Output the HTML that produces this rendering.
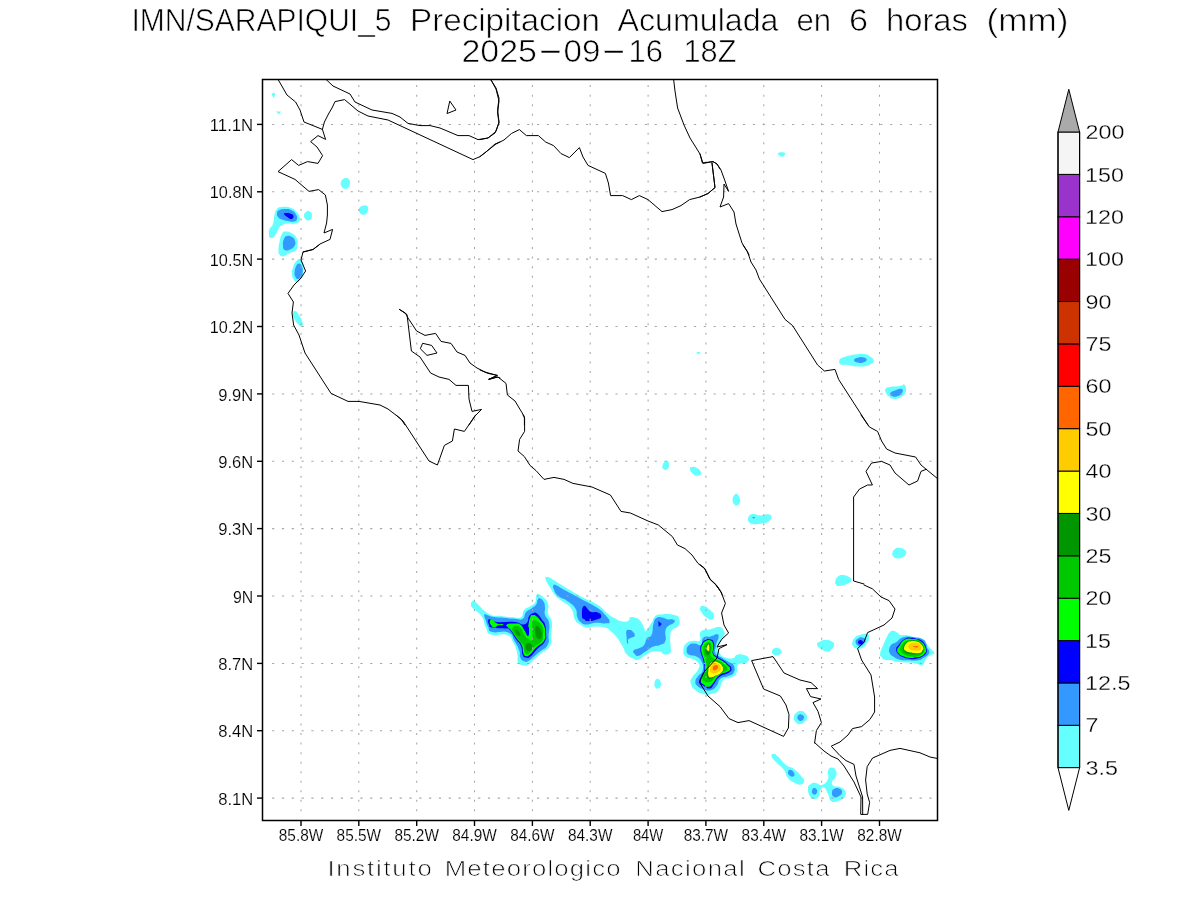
<!DOCTYPE html>
<html lang="es"><head><meta charset="utf-8"><title>IMN/SARAPIQUI_5 Precipitacion Acumulada en 6 horas (mm)</title>
<style>
html,body{margin:0;padding:0;background:#fff;}
body{width:1200px;height:900px;overflow:hidden;}
svg{display:block;}
text{font-family:"Liberation Sans",sans-serif;fill:#000;}
.t1{font-size:31.4px;}
.tk{font-size:16.4px;}
.cb{font-size:19.6px;}
.ft{font-size:22.4px;}
.thin{stroke:#fff;stroke-width:0.65px;paint-order:fill stroke;}
.thin2{stroke:#fff;stroke-width:0.15px;}
.thin3{stroke:#fff;stroke-width:0.3px;}
.thinf{stroke:#fff;stroke-width:0.75px;}
</style></head><body>
<svg width="1200" height="900" viewBox="0 0 1200 900">
<rect width="1200" height="900" fill="#fff"/>
<g id="shade">
<path fill="#66ffff" d="M272.0,93.4C272.7,92.7 274.5,92.3 275.0,93.4C275.5,94.5 274.7,96.7 274.0,97.4C273.3,98.1 272.9,97.1 272.4,96.0C271.9,94.9 271.3,94.1 272.0,93.4Z M276.0,111.4 L281.0,111.4 L279.0,114.6Z M341.0,182.0C341.7,180.0 342.1,179.5 344.0,178.6C345.9,177.7 346.4,177.4 348.0,178.6C349.6,179.8 350.0,180.7 350.0,183.0C350.0,185.3 349.6,185.9 348.0,187.4C346.4,188.9 345.8,189.0 344.0,188.6C342.2,188.2 342.2,187.8 341.4,186.0C340.6,184.2 340.3,184.0 341.0,182.0Z M359.0,208.6C359.7,207.0 359.9,206.7 362.0,206.0C364.1,205.3 365.4,204.9 367.0,206.0C368.6,207.1 368.4,207.9 368.0,210.0C367.6,212.1 367.2,212.8 365.6,214.0C364.0,215.2 363.7,214.9 362.0,214.4C360.3,213.9 360.2,213.5 359.4,212.0C358.6,210.5 358.3,210.2 359.0,208.6Z M778.0,153.4C778.2,152.5 778.4,152.6 780.0,152.4C781.6,152.2 782.7,152.1 784.0,152.6C785.3,153.1 785.5,153.3 785.0,154.4C784.5,155.5 783.5,156.3 782.0,156.6C780.5,156.9 780.5,156.5 779.4,155.6C778.3,154.7 777.8,154.3 778.0,153.4Z M697.0,352.2C697.8,351.8 699.2,351.8 700.0,352.2C700.8,352.6 700.8,353.2 700.0,353.6C699.2,354.0 697.8,354.0 697.0,353.6C696.2,353.2 696.2,352.6 697.0,352.2Z M839.4,360.6C839.9,358.8 838.8,359.2 843.0,357.6C847.2,356.0 849.4,355.6 855.0,354.6C860.6,353.6 860.0,353.5 864.0,354.0C868.0,354.5 867.4,354.8 870.0,356.6C872.6,358.4 873.6,358.5 873.6,360.6C873.6,362.7 873.6,362.8 870.0,364.4C866.4,366.0 865.9,366.4 860.0,366.6C854.1,366.8 853.1,365.6 848.0,365.0C842.9,364.4 843.3,365.6 841.0,364.4C838.7,363.2 838.9,362.4 839.4,360.6Z M885.6,389.0C886.7,387.4 886.2,387.8 890.0,387.0C893.8,386.2 896.3,386.7 900.0,386.0C903.7,385.3 902.4,383.9 904.0,384.4C905.6,384.9 905.7,385.7 906.0,388.0C906.3,390.3 906.3,390.6 905.0,393.0C903.7,395.4 903.9,395.4 901.0,397.0C898.1,398.6 897.2,399.1 894.0,399.0C890.8,398.9 891.1,398.2 889.0,396.6C886.9,395.0 886.9,395.0 886.0,393.0C885.1,391.0 884.5,390.6 885.6,389.0Z M662.4,466.0C662.7,463.9 663.5,462.6 665.0,461.4C666.5,460.2 666.9,460.4 668.0,461.4C669.1,462.4 669.1,463.0 669.0,465.0C668.9,467.0 668.9,467.8 667.6,469.0C666.3,470.2 665.4,470.2 664.0,469.4C662.6,468.6 662.1,468.1 662.4,466.0Z M690.0,468.6C690.0,467.0 690.4,467.3 692.0,467.0C693.6,466.7 693.9,466.4 696.0,467.4C698.1,468.4 698.8,468.7 700.0,470.6C701.2,472.5 701.7,473.3 700.6,474.6C699.5,475.9 698.3,475.8 696.0,475.4C693.7,475.0 693.6,474.8 692.0,473.0C690.4,471.2 690.0,470.2 690.0,468.6Z M732.6,500.0C732.6,497.7 732.8,497.0 734.0,495.4C735.2,493.8 735.6,493.3 737.0,494.0C738.4,494.7 738.6,495.9 739.4,498.0C740.2,500.1 740.6,500.0 740.0,502.0C739.4,504.0 738.6,504.9 737.0,505.4C735.4,505.9 735.2,505.4 734.0,504.0C732.8,502.6 732.6,502.3 732.6,500.0Z M748.0,519.0C748.3,517.1 748.4,516.3 750.0,515.0C751.6,513.7 751.3,513.9 754.0,514.0C756.7,514.1 756.0,515.3 760.0,515.4C764.0,515.5 766.0,513.9 769.0,514.4C772.0,514.9 771.4,515.6 771.4,517.4C771.4,519.2 771.5,519.3 769.0,521.0C766.5,522.7 766.3,522.8 762.0,523.6C757.7,524.4 756.5,524.4 753.0,524.0C749.5,523.6 750.3,523.3 749.0,522.0C747.7,520.7 747.7,520.9 748.0,519.0Z M892.4,553.0C892.8,551.0 893.0,550.3 895.0,549.0C897.0,547.7 897.3,547.7 900.0,548.0C902.7,548.3 903.4,548.6 905.0,550.0C906.6,551.4 906.5,551.5 906.0,553.4C905.5,555.3 905.4,555.7 903.0,557.0C900.6,558.3 899.6,558.5 897.0,558.4C894.4,558.3 894.6,558.0 893.4,556.6C892.2,555.2 892.0,555.0 892.4,553.0Z M835.4,581.0C835.9,578.9 836.0,578.2 838.0,576.6C840.0,575.0 840.1,574.9 843.0,575.0C845.9,575.1 846.8,575.5 849.0,577.0C851.2,578.5 851.9,578.7 851.4,580.6C850.9,582.5 850.0,582.6 847.0,584.0C844.0,585.4 842.9,585.8 840.0,586.0C837.1,586.2 837.2,585.9 836.0,584.6C834.8,583.3 834.9,583.1 835.4,581.0Z M700.0,608.0C700.5,606.1 701.3,605.5 704.0,606.0C706.7,606.5 707.3,607.6 710.0,610.0C712.7,612.4 713.5,612.5 714.0,615.0C714.5,617.5 713.9,618.6 712.0,619.4C710.1,620.2 709.7,619.7 707.0,618.0C704.3,616.3 703.9,615.7 702.0,613.0C700.1,610.3 699.5,609.9 700.0,608.0Z M772.0,651.4C772.3,650.0 772.4,649.5 774.0,648.6C775.6,647.7 776.1,647.5 778.0,648.0C779.9,648.5 780.5,649.0 781.0,650.6C781.5,652.2 781.3,652.7 780.0,654.0C778.7,655.3 777.9,655.4 776.0,655.4C774.1,655.4 774.1,655.1 773.0,654.0C771.9,652.9 771.7,652.8 772.0,651.4Z M817.0,644.6C816.7,642.6 817.6,642.6 820.0,641.4C822.4,640.2 822.8,640.0 826.0,640.0C829.2,640.0 829.9,640.1 832.0,641.4C834.1,642.7 834.3,642.7 834.0,645.0C833.7,647.3 832.9,648.3 831.0,650.0C829.1,651.7 829.7,651.7 827.0,651.4C824.3,651.1 823.7,650.8 821.0,649.0C818.3,647.2 817.3,646.6 817.0,644.6Z M794.0,717.4C794.1,715.0 794.2,714.7 796.0,713.0C797.8,711.3 798.2,711.0 800.6,711.0C803.0,711.0 803.3,711.3 805.0,713.0C806.7,714.7 807.2,715.0 807.0,717.4C806.8,719.8 806.3,720.2 804.4,722.0C802.5,723.8 802.3,724.0 800.0,724.0C797.7,724.0 797.2,723.8 795.6,722.0C794.0,720.2 793.9,719.8 794.0,717.4Z M852.4,642.0C852.9,639.7 853.0,639.3 855.0,637.4C857.0,635.5 856.8,635.9 860.0,635.0C863.2,634.1 864.6,633.4 867.0,634.0C869.4,634.6 869.0,635.0 869.0,637.4C869.0,639.8 868.6,640.3 867.0,643.0C865.4,645.7 865.7,645.9 863.0,647.4C860.3,648.9 859.7,649.0 857.0,648.6C854.3,648.2 854.2,647.8 853.0,646.0C851.8,644.2 851.9,644.3 852.4,642.0Z M880.2,653.2C880.7,649.8 881.6,648.9 883.4,644.5C885.2,640.1 885.2,640.2 886.9,636.9C888.6,633.6 888.1,633.9 889.8,632.2C891.5,630.6 891.3,630.6 893.3,630.8C895.4,630.9 895.5,631.7 897.4,632.8C899.3,633.9 897.8,634.2 900.3,634.9C902.8,635.5 903.2,634.7 906.8,635.3C910.3,635.8 909.5,635.9 913.8,636.9C918.0,637.9 918.6,636.5 922.5,639.0C926.4,641.4 925.8,643.4 928.3,646.2C930.8,649.1 930.3,647.8 931.8,649.8C933.4,651.7 934.5,652.1 934.2,653.5C933.9,654.9 932.8,653.5 930.7,655.0C928.5,656.5 928.2,656.4 926.0,659.1C923.8,661.7 925.3,663.8 922.5,664.9C919.7,666.1 919.5,664.1 915.5,663.5C911.5,662.8 912.5,663.1 907.3,662.6C902.2,662.1 900.6,662.3 896.2,661.7C891.9,661.1 894.0,660.7 891.0,660.2C888.0,659.8 887.7,660.7 885.2,660.0C882.7,659.2 883.0,659.1 881.7,657.3C880.3,655.5 879.7,656.7 880.2,653.2Z M683.4,650.2C683.7,646.7 684.1,645.6 686.6,643.1C689.0,640.6 689.2,641.6 692.8,640.9C696.3,640.2 697.8,642.9 699.9,640.4C702.0,638.0 697.9,634.5 700.8,631.6C703.6,628.6 705.8,630.5 710.6,629.3C715.3,628.1 715.1,626.9 718.6,627.1C722.0,627.3 722.0,627.6 723.4,630.2C724.9,632.8 725.0,633.5 723.9,636.9C722.8,640.3 721.1,639.8 719.4,643.1C717.8,646.4 717.7,646.7 717.7,649.3C717.7,651.9 717.5,650.8 719.4,652.9C721.3,655.0 721.2,655.9 724.8,657.3C728.3,658.8 729.5,658.9 732.8,658.2C736.1,657.5 734.1,655.5 737.2,654.7C740.3,653.8 741.3,654.2 744.3,655.1C747.4,656.1 748.3,656.2 748.8,658.2C749.3,660.2 748.7,661.1 746.1,662.7C743.5,664.2 741.4,662.8 739.0,664.0C736.6,665.2 737.9,664.6 737.2,667.1C736.5,669.6 738.2,670.5 736.3,673.3C734.4,676.2 733.7,675.9 730.1,677.8C726.6,679.7 726.1,677.1 723.0,680.4C719.9,683.8 721.6,686.7 718.6,690.2C715.5,693.8 715.2,692.7 711.4,693.8C707.7,694.8 708.6,695.2 704.3,694.2C700.1,693.3 699.0,692.9 695.4,690.2C691.9,687.5 691.9,687.3 691.0,684.0C690.1,680.7 690.0,681.6 691.9,677.8C693.8,674.0 696.3,673.6 698.1,669.8C699.9,666.0 700.0,666.4 698.6,663.6C697.1,660.7 696.2,661.0 692.8,659.1C689.3,657.2 688.2,658.8 685.7,656.4C683.2,654.1 683.2,653.8 683.4,650.2Z M471.0,604.8C470.8,603.0 471.0,602.3 472.2,601.6C473.4,600.9 470.9,598.7 475.4,602.0C479.9,605.3 482.2,610.3 489.0,614.0C495.8,617.7 494.6,615.1 501.0,616.0C507.4,616.9 507.7,616.9 513.0,617.2C518.3,617.5 518.0,619.1 521.0,617.2C524.0,615.3 521.6,613.0 524.2,610.0C526.8,607.0 527.6,608.1 530.6,606.0C533.6,603.9 533.9,604.8 535.4,602.0C536.9,599.2 535.1,597.6 536.2,595.6C537.3,593.6 537.1,593.5 539.4,594.4C541.7,595.3 542.7,596.1 545.0,598.8C547.3,601.5 547.3,600.3 548.2,604.4C549.1,608.5 547.2,609.3 548.2,614.0C549.2,618.7 551.1,616.5 551.8,622.0C552.5,627.5 551.5,628.4 551.0,634.8C550.5,641.2 552.7,640.9 549.8,646.0C546.9,651.1 545.1,649.7 540.2,654.0C535.3,658.3 534.8,659.1 531.4,662.0C528.0,664.9 529.5,663.8 527.4,664.8C525.3,665.8 525.5,665.7 523.6,665.6C521.6,665.5 521.7,665.4 520.2,664.4C518.7,663.4 518.7,665.2 517.8,662.0C516.9,658.8 518.3,657.7 517.0,652.4C515.7,647.1 515.8,646.7 513.0,642.0C510.2,637.3 512.4,636.7 506.6,634.8C500.8,632.9 496.9,636.7 491.4,634.8C485.9,632.9 488.4,632.5 485.8,627.6C483.2,622.7 485.2,621.5 481.8,616.4C478.4,611.3 475.9,611.5 473.0,608.4C470.1,605.3 471.2,606.6 471.0,604.8Z M545.4,578.4C544.8,575.8 545.4,576.8 547.2,577.0C549.0,577.1 548.2,576.9 552.0,579.0C555.8,581.1 553.6,580.2 561.6,585.0C569.6,589.8 572.4,591.7 582.0,597.0C591.6,602.3 590.9,600.5 597.6,604.8C604.3,609.1 602.7,609.7 607.2,613.2C611.7,616.7 610.2,615.8 614.4,618.0C618.6,620.2 619.0,621.0 622.8,621.6C626.6,622.2 626.9,621.5 628.8,620.4C630.7,619.3 628.1,618.0 630.0,617.4C631.9,616.8 633.1,616.9 636.0,618.0C638.9,619.1 638.6,618.7 640.8,621.6C643.0,624.5 643.1,626.2 644.4,628.8C645.7,631.4 643.7,632.8 645.6,631.2C647.5,629.6 649.0,626.8 651.6,622.8C654.2,618.8 652.6,618.4 655.2,616.2C657.8,614.0 656.1,614.7 661.2,614.4C666.3,614.1 669.6,613.7 674.4,615.0C679.2,616.3 678.2,616.2 679.2,619.2C680.2,622.2 679.9,623.5 678.0,626.4C676.1,629.3 674.1,626.8 672.0,630.0C669.9,633.2 670.5,633.6 670.2,638.4C669.9,643.2 670.8,644.2 670.8,648.0C670.8,651.8 671.8,651.0 670.2,652.8C668.6,654.6 667.5,654.9 664.8,654.6C662.1,654.3 663.2,652.4 660.0,651.6C656.8,650.8 656.6,650.6 652.8,651.6C649.0,652.6 649.4,653.1 645.6,655.2C641.8,657.3 641.6,658.4 638.4,659.4C635.2,660.4 636.8,660.2 633.6,658.8C630.4,657.4 629.3,657.2 626.4,654.0C623.5,650.8 625.4,651.3 622.8,646.8C620.2,642.3 620.0,641.4 616.8,637.2C613.6,633.0 614.0,633.8 610.8,631.2C607.6,628.6 609.0,628.9 604.8,627.6C600.6,626.3 600.0,626.4 595.2,626.4C590.4,626.4 591.0,628.2 586.8,627.6C582.6,627.0 582.8,626.2 579.6,624.0C576.4,621.8 577.0,623.4 574.8,619.2C572.6,615.0 574.4,613.0 571.2,608.4C568.0,603.8 567.0,605.2 562.8,601.8C558.6,598.4 559.1,599.8 555.6,595.8C552.1,591.8 552.3,591.4 549.6,586.8C546.9,582.2 546.0,581.0 545.4,578.4Z M654.4,684.0C654.5,682.0 654.5,681.3 655.6,680.0C656.7,678.7 657.1,678.5 658.4,679.0C659.7,679.5 660.0,680.1 660.6,682.0C661.2,683.9 661.3,684.2 660.6,686.0C659.9,687.8 659.4,688.2 658.0,688.6C656.6,689.0 656.4,688.6 655.4,687.4C654.4,686.2 654.3,686.0 654.4,684.0Z M269.0,235.0C268.9,232.7 268.4,231.9 269.5,229.0C270.6,226.1 271.7,227.7 273.0,224.0C274.3,220.3 273.4,219.0 274.5,215.0C275.6,211.0 275.0,211.1 277.0,209.0C279.0,206.9 278.3,207.3 282.0,207.0C285.7,206.7 287.3,206.8 291.0,208.0C294.7,209.2 293.7,209.2 296.0,211.5C298.3,213.8 298.6,214.0 299.5,216.5C300.4,219.0 300.7,219.1 299.5,221.0C298.3,222.9 298.1,222.8 295.0,223.5C291.9,224.2 291.2,223.2 288.0,223.5C284.8,223.8 285.4,223.3 283.0,224.5C280.6,225.7 280.9,225.5 279.0,228.0C277.1,230.5 277.6,231.5 276.0,234.0C274.4,236.5 274.6,236.6 273.0,237.5C271.4,238.4 271.1,238.2 270.0,237.5C268.9,236.8 269.1,237.3 269.0,235.0Z M304.0,215.5C304.0,213.8 304.3,213.7 305.5,212.5C306.7,211.3 306.9,210.7 308.5,211.0C310.1,211.3 310.7,211.6 311.5,213.5C312.3,215.4 312.3,216.1 311.5,218.0C310.7,219.9 310.1,220.2 308.5,220.5C306.9,220.8 306.7,220.3 305.5,219.0C304.3,217.7 304.0,217.2 304.0,215.5Z M278.5,251.0C278.5,247.7 278.6,246.5 279.5,242.0C280.4,237.5 280.4,236.8 282.0,234.0C283.6,231.2 282.8,231.6 285.5,231.5C288.2,231.4 289.1,231.8 292.0,233.5C294.9,235.2 295.0,235.2 296.5,238.0C298.0,240.8 297.6,240.8 297.5,244.0C297.4,247.2 297.7,247.7 296.0,250.0C294.3,252.3 293.7,251.2 291.0,252.5C288.3,253.8 288.3,253.9 286.0,255.0C283.7,256.1 284.2,256.6 282.5,256.5C280.8,256.4 280.6,256.0 279.5,254.5C278.4,253.0 278.5,254.3 278.5,251.0Z M292.0,274.0C291.9,270.3 292.3,269.5 293.5,266.0C294.7,262.5 294.9,262.9 296.5,261.0C298.1,259.1 297.9,258.9 299.5,259.0C301.1,259.1 301.4,259.4 302.5,261.5C303.6,263.6 303.4,263.7 303.5,267.0C303.6,270.3 303.8,270.5 303.0,274.0C302.2,277.5 302.1,277.7 300.5,280.0C298.9,282.3 298.7,282.5 297.0,282.5C295.3,282.5 295.3,282.3 294.0,280.0C292.7,277.7 292.1,277.7 292.0,274.0Z M292.6,314.0C292.6,311.6 293.3,310.7 295.0,311.0C296.7,311.3 297.1,312.3 299.0,315.0C300.9,317.7 301.1,318.1 302.0,321.0C302.9,323.9 303.2,324.9 302.4,326.0C301.6,327.1 301.0,326.6 299.0,325.0C297.0,323.4 296.7,322.9 295.0,320.0C293.3,317.1 292.6,316.4 292.6,314.0Z M771.6,756.4C770.8,754.0 772.3,753.9 774.0,754.0C775.7,754.1 774.8,753.7 778.0,756.6C781.2,759.5 781.7,761.7 786.0,765.0C790.3,768.3 789.7,765.8 794.0,769.0C798.3,772.2 799.3,773.8 802.0,777.0C804.7,780.2 804.3,779.0 804.0,781.0C803.7,783.0 803.4,783.9 801.0,784.4C798.6,784.9 798.5,784.7 795.0,783.0C791.5,781.3 790.9,781.5 788.0,778.0C785.1,774.5 786.9,774.0 784.0,770.0C781.1,766.0 780.3,766.6 777.0,763.0C773.7,759.4 772.4,758.8 771.6,756.4Z M808.0,788.0C808.3,784.7 808.9,785.3 811.0,784.0C813.1,782.7 813.1,782.7 816.0,783.0C818.9,783.3 818.8,786.1 822.0,785.0C825.2,783.9 826.4,782.7 828.0,779.0C829.6,775.3 826.9,774.0 828.0,771.0C829.1,768.0 829.9,767.6 832.0,767.6C834.1,767.6 835.0,768.5 836.0,771.0C837.0,773.5 836.7,774.1 835.6,777.0C834.5,779.9 832.4,779.6 832.0,782.0C831.6,784.4 831.9,784.7 834.0,786.0C836.1,787.3 837.1,785.7 840.0,787.0C842.9,788.3 843.8,788.3 845.0,791.0C846.2,793.7 846.3,794.3 844.4,797.0C842.5,799.7 841.6,799.9 838.0,801.0C834.4,802.1 833.7,802.9 831.0,801.0C828.3,799.1 829.9,797.6 828.0,794.0C826.1,790.4 826.1,788.2 824.0,787.4C821.9,786.6 821.3,788.7 820.0,791.0C818.7,793.3 820.3,793.9 819.0,796.0C817.7,798.1 817.4,798.9 815.0,799.0C812.6,799.1 811.9,799.3 810.0,796.4C808.1,793.5 807.7,791.3 808.0,788.0Z"/>
<path fill="#3399ff" d="M854.0,360.0C854.2,358.6 855.9,358.1 858.6,357.4C861.3,356.7 861.9,356.7 864.0,357.4C866.1,358.1 866.9,358.6 866.6,360.0C866.3,361.4 865.3,361.9 863.0,362.6C860.7,363.3 860.4,363.3 858.0,362.6C855.6,361.9 853.8,361.4 854.0,360.0Z M890.0,393.4C890.5,391.9 891.9,391.8 895.0,390.6C898.1,389.4 899.7,388.4 901.6,389.0C903.5,389.6 903.0,391.1 902.0,393.0C901.0,394.9 900.4,395.1 898.0,396.0C895.6,396.9 895.1,397.1 893.0,396.4C890.9,395.7 889.5,394.9 890.0,393.4Z M752.0,517.0 L755.4,517.0 L753.6,518.8Z M797.4,717.4C797.5,715.9 798.1,715.2 799.4,714.6C800.7,714.0 801.2,714.3 802.4,715.0C803.6,715.7 804.1,716.0 804.0,717.4C803.9,718.8 803.3,719.6 802.0,720.4C800.7,721.2 800.2,721.2 799.0,720.4C797.8,719.6 797.3,718.9 797.4,717.4Z M855.6,642.0C855.3,640.0 856.3,639.8 858.0,638.6C859.7,637.4 860.0,637.2 862.0,637.4C864.0,637.6 865.2,637.6 865.6,639.4C866.0,641.2 865.4,642.2 863.6,644.0C861.8,645.8 861.1,646.5 859.0,646.0C856.9,645.5 855.9,644.0 855.6,642.0Z M889.2,649.2C889.7,646.8 889.7,646.4 891.6,644.5C893.5,642.6 893.1,644.1 896.2,642.2C899.4,640.2 898.7,638.5 903.2,637.2C907.8,635.9 908.0,636.7 913.2,637.2C918.3,637.8 919.1,637.6 922.5,639.2C925.9,640.9 924.8,641.0 926.0,643.3C927.2,645.7 926.4,646.1 927.2,648.0C927.9,649.9 928.6,648.6 928.9,650.3C929.2,652.0 930.0,652.2 928.3,654.4C926.6,656.6 925.1,656.9 922.5,658.5C919.9,660.1 922.3,659.8 918.4,660.2C914.5,660.7 912.9,660.4 907.9,660.2C902.9,660.1 903.8,660.8 899.8,659.7C895.7,658.6 895.4,657.9 892.8,656.2C890.1,654.5 890.8,655.1 889.8,653.2C888.9,651.4 888.8,651.5 889.2,649.2Z M686.6,650.2C686.6,647.6 687.1,646.7 689.2,644.9C691.4,643.1 691.5,643.6 694.6,643.6C697.6,643.6 698.4,646.4 700.8,644.9C703.1,643.3 700.8,640.0 703.4,637.8C706.1,635.5 707.0,637.4 710.6,636.4C714.1,635.5 714.6,634.1 716.8,634.2C718.9,634.3 718.6,634.8 718.6,636.9C718.6,639.0 717.5,639.6 716.8,642.2C716.1,644.8 716.2,643.8 715.9,646.7C715.5,649.5 714.0,650.0 715.4,652.9C716.9,655.7 717.8,655.0 721.2,657.3C724.7,659.7 725.0,659.6 728.3,661.8C731.7,663.9 732.2,662.5 733.7,665.3C735.1,668.2 735.1,669.6 733.7,672.4C732.2,675.3 731.9,674.3 728.3,676.0C724.8,677.7 723.4,676.1 720.3,678.7C717.3,681.3 719.4,682.7 716.8,685.8C714.2,688.9 714.1,689.3 710.6,690.2C707.0,691.2 707.0,690.5 703.4,689.3C699.9,688.1 699.4,687.9 697.2,685.8C695.1,683.6 695.2,683.9 695.4,681.3C695.7,678.7 696.2,678.8 698.1,676.0C700.0,673.2 701.6,674.5 702.6,670.7C703.5,666.9 703.3,665.6 701.7,661.8C700.0,658.0 699.7,658.3 696.3,656.4C693.0,654.5 691.8,656.3 689.2,654.7C686.6,653.0 686.6,652.8 686.6,650.2Z M484.2,615.6C484.2,614.0 483.9,614.2 485.8,614.4C487.7,614.6 487.3,615.5 491.4,616.4C495.5,617.3 494.8,617.0 501.0,617.6C507.2,618.2 508.8,618.5 514.6,618.8C520.4,619.1 519.6,620.5 522.6,618.8C525.6,617.1 523.5,615.2 525.8,612.4C528.1,609.6 528.6,610.5 531.4,608.4C534.2,606.3 534.5,606.7 536.2,604.4C537.9,602.1 536.7,601.2 537.8,599.6C538.9,598.0 538.6,597.8 540.2,598.4C541.8,599.0 542.5,599.5 543.8,602.0C545.1,604.5 544.7,604.2 545.0,607.6C545.3,611.0 543.9,610.7 545.0,614.8C546.1,618.9 548.0,617.5 549.0,622.8C550.0,628.1 549.0,628.8 548.6,634.8C548.2,640.8 550.1,640.5 547.4,645.2C544.7,649.9 543.5,648.3 538.6,652.4C533.7,656.5 532.8,658.1 529.0,660.4C525.2,662.7 526.5,662.1 524.2,661.2C521.9,660.3 521.5,660.0 520.2,657.2C518.9,654.4 520.9,655.1 519.4,650.8C517.9,646.5 517.6,646.1 514.6,641.2C511.6,636.3 514.2,634.9 508.2,632.4C502.2,629.9 497.5,633.5 492.2,632.0C486.9,630.5 489.9,629.9 488.2,626.8C486.5,623.7 486.9,623.4 485.8,620.4C484.7,617.4 484.2,617.2 484.2,615.6Z M553.2,586.2C553.7,585.1 552.7,584.0 555.6,585.0C558.5,586.0 557.0,586.0 564.0,589.8C571.0,593.6 573.4,594.8 582.0,599.4C590.6,604.0 590.3,603.2 596.4,607.2C602.5,611.2 601.3,610.6 604.8,614.4C608.3,618.2 609.6,619.2 609.6,621.6C609.6,624.0 608.6,623.1 604.8,623.4C601.0,623.7 600.0,622.5 595.2,622.8C590.4,623.1 590.6,624.8 586.8,624.6C583.0,624.4 583.4,624.3 580.8,622.2C578.2,620.1 578.6,620.5 577.2,616.8C575.8,613.1 578.0,612.6 575.4,608.4C572.8,604.2 572.2,604.6 567.6,601.2C563.0,597.8 561.7,599.0 558.0,595.8C554.3,592.6 555.1,591.8 553.8,589.2C552.5,586.6 552.7,587.3 553.2,586.2Z M626.4,631.2C627.1,629.3 627.8,630.0 629.4,630.0C631.0,630.0 631.0,629.8 632.4,631.2C633.8,632.6 635.1,633.6 634.8,635.4C634.5,637.2 633.0,636.7 631.2,637.8C629.4,638.9 629.0,638.2 628.2,639.6C627.4,641.0 628.5,642.4 628.2,643.2C627.9,644.0 627.4,644.2 627.0,642.6C626.6,641.0 626.8,640.2 626.6,637.2C626.5,634.2 625.7,633.1 626.4,631.2Z M633.6,650.4C634.9,648.8 636.7,649.6 639.6,648.0C642.5,646.4 642.5,647.0 644.4,644.4C646.3,641.8 644.9,641.0 646.8,638.4C648.7,635.8 649.8,638.6 651.6,634.8C653.4,631.0 652.1,628.5 653.4,624.0C654.7,619.5 654.0,619.8 656.4,618.0C658.8,616.2 659.5,617.1 662.4,617.4C665.3,617.7 664.3,618.6 667.2,619.2C670.1,619.8 671.4,618.8 673.2,619.8C675.0,620.8 675.7,620.4 673.8,622.8C671.9,625.2 668.2,624.0 666.0,628.8C663.8,633.6 667.0,636.5 665.4,640.8C663.8,645.1 663.4,643.4 660.0,645.0C656.6,646.6 656.6,645.0 652.8,646.8C649.0,648.6 649.4,649.2 645.6,651.6C641.8,654.0 641.3,655.2 638.4,655.8C635.5,656.4 636.1,655.4 634.8,654.0C633.5,652.6 632.3,652.0 633.6,650.4Z M277.0,213.5C277.3,211.5 277.1,211.2 279.5,210.0C281.9,208.8 282.7,208.9 286.0,209.0C289.3,209.1 289.3,209.0 292.0,210.5C294.7,212.0 294.7,212.2 296.0,214.5C297.3,216.8 297.5,217.1 297.0,219.0C296.5,220.9 296.4,221.0 294.0,221.5C291.6,222.0 291.2,221.5 288.0,221.0C284.8,220.5 284.5,220.4 282.0,219.5C279.5,218.6 279.8,219.1 278.5,217.5C277.2,215.9 276.7,215.5 277.0,213.5Z M283.0,246.0C282.7,243.1 282.9,241.7 284.0,239.0C285.1,236.3 284.9,236.5 287.0,236.0C289.1,235.5 289.9,235.7 292.0,237.0C294.1,238.3 294.3,238.6 295.0,241.0C295.7,243.4 295.8,243.7 294.5,246.0C293.2,248.3 292.5,248.4 290.0,249.5C287.5,250.6 286.9,250.9 285.0,250.0C283.1,249.1 283.3,248.9 283.0,246.0Z M294.5,273.0C294.6,270.2 294.8,269.0 296.0,266.5C297.2,264.0 297.4,263.4 299.0,263.5C300.6,263.6 301.1,264.5 302.0,267.0C302.9,269.5 302.9,270.2 302.5,273.0C302.1,275.8 301.8,275.9 300.5,277.5C299.2,279.1 298.8,279.1 297.5,279.0C296.2,278.9 296.3,278.6 295.5,277.0C294.7,275.4 294.4,275.8 294.5,273.0Z M788.0,772.0C788.4,770.5 789.3,769.5 791.0,770.0C792.7,770.5 793.9,772.3 794.4,774.0C794.9,775.7 794.3,776.0 793.0,776.4C791.7,776.8 790.9,776.8 789.6,775.6C788.3,774.4 787.6,773.5 788.0,772.0Z M812.0,791.0C812.3,789.4 812.7,788.3 814.0,788.0C815.3,787.7 816.5,788.4 817.0,790.0C817.5,791.6 817.1,792.9 816.0,794.0C814.9,795.1 814.1,794.8 813.0,794.0C811.9,793.2 811.7,792.6 812.0,791.0Z M832.0,792.0C832.3,789.8 832.9,789.4 835.0,788.6C837.1,787.8 838.1,788.0 840.0,789.0C841.9,790.0 842.3,790.5 842.0,792.4C841.7,794.3 841.1,794.8 839.0,796.0C836.9,797.2 835.9,798.1 834.0,797.0C832.1,795.9 831.7,794.2 832.0,792.0Z"/>
<path fill="#0000ff" d="M858.0,642.0C858.2,640.8 859.3,639.8 860.6,640.0C861.9,640.2 863.2,641.4 863.0,642.6C862.8,643.8 861.3,644.6 860.0,644.4C858.7,644.2 857.8,643.2 858.0,642.0Z M896.2,649.2C896.2,647.0 895.7,648.5 898.0,645.7C900.3,642.9 901.3,640.8 905.0,638.7C908.7,636.6 908.9,637.7 912.0,637.8C915.1,637.9 914.3,638.3 916.7,639.0C919.0,639.6 918.7,639.0 920.8,640.1C922.8,641.3 922.8,641.2 924.2,643.3C925.7,645.4 925.7,645.5 926.3,648.0C926.8,650.5 927.3,650.4 926.3,652.7C925.3,654.9 925.2,654.8 922.5,656.5C919.8,658.1 919.4,658.1 916.1,658.8C912.8,659.5 913.7,659.4 910.2,659.0C906.8,658.6 906.5,658.7 903.2,657.3C900.0,656.0 899.9,656.0 898.0,653.8C896.1,651.7 896.2,651.3 896.2,649.2Z M700.3,649.3C700.3,646.3 700.4,646.5 701.7,644.0C703.0,641.5 702.9,641.2 705.2,640.0C707.6,638.8 708.3,639.0 710.6,639.6C712.8,640.1 712.7,640.1 713.7,642.2C714.6,644.4 714.2,644.7 714.1,647.6C714.0,650.4 712.5,650.5 713.2,652.9C713.9,655.3 714.2,654.5 716.8,656.4C719.4,658.3 719.9,657.9 723.0,660.0C726.1,662.1 726.1,662.3 728.3,664.4C730.6,666.6 731.2,665.9 731.4,668.0C731.7,670.1 732.4,670.1 729.2,672.4C726.0,674.8 723.5,673.8 719.4,676.9C715.4,680.0 716.7,680.9 714.1,684.0C711.5,687.1 712.5,688.0 709.7,688.4C706.8,688.9 706.2,687.4 703.4,685.8C700.7,684.1 699.9,685.1 699.4,682.2C699.0,679.4 700.4,678.4 701.7,675.1C703.0,671.8 703.9,673.6 704.3,669.8C704.8,666.0 704.2,664.7 703.4,660.9C702.7,657.1 702.5,658.6 701.7,655.6C700.8,652.5 700.3,652.4 700.3,649.3Z M488.2,620.4C488.6,619.1 488.3,619.2 490.6,619.6C492.9,620.0 490.6,621.4 497.0,622.0C503.4,622.6 507.8,621.4 514.6,622.0C521.4,622.6 519.2,624.4 522.6,624.4C526.0,624.4 525.7,624.1 527.4,622.0C529.1,619.9 527.5,618.7 529.0,616.4C530.5,614.1 530.9,613.9 533.0,613.2C535.1,612.5 534.7,611.9 537.0,613.6C539.3,615.3 539.7,616.7 541.8,619.6C543.9,622.5 543.9,621.0 545.0,624.4C546.1,627.8 545.8,627.9 545.8,632.4C545.8,636.9 547.3,636.7 545.0,641.2C542.7,645.7 540.8,645.1 537.0,649.2C533.2,653.3 533.6,654.2 530.6,656.4C527.6,658.6 527.9,658.0 525.8,657.6C523.7,657.2 523.9,657.9 522.6,654.8C521.3,651.7 522.7,650.1 521.0,646.0C519.3,641.9 519.2,643.9 516.2,639.6C513.2,635.3 512.8,633.0 509.8,630.0C506.8,627.0 509.7,629.0 505.0,628.4C500.3,627.8 496.5,628.7 492.2,627.6C487.9,626.5 490.1,626.3 489.0,624.4C487.9,622.5 487.8,621.7 488.2,620.4Z M582.0,616.2C581.8,612.7 581.6,607.3 583.8,606.0C586.0,604.7 586.7,609.6 590.4,611.4C594.1,613.2 594.7,611.3 597.6,612.6C600.5,613.9 601.2,614.4 601.2,616.2C601.2,618.0 601.1,617.9 597.6,619.2C594.1,620.5 591.5,621.0 588.0,621.0C584.5,621.0 586.0,620.5 584.4,619.2C582.8,617.9 582.2,619.7 582.0,616.2Z M658.2,621.0 L661.8,624.0 L658.8,627.0Z M284.0,214.0C283.7,212.8 285.0,213.0 287.0,213.0C289.0,213.0 289.8,213.1 291.5,214.0C293.2,214.9 293.5,215.2 293.5,216.5C293.5,217.8 293.0,218.7 291.5,219.0C290.0,219.3 290.0,218.8 288.0,217.5C286.0,216.2 284.3,215.2 284.0,214.0Z"/>
<path fill="#00ff00" d="M897.3,649.8C897.5,647.9 897.1,649.0 899.2,646.2C901.2,643.5 901.3,641.5 905.0,639.5C908.7,637.6 909.4,638.7 913.2,639.0C916.9,639.2 916.4,639.2 919.0,640.4C921.6,641.6 921.5,641.8 923.1,643.3C924.6,644.9 924.1,644.4 924.8,646.2C925.6,648.1 926.0,648.5 926.0,650.3C926.0,652.2 926.1,651.7 924.8,653.2C923.6,654.8 923.7,655.1 921.3,656.2C919.0,657.3 919.0,656.9 916.1,657.3C913.1,657.8 913.7,658.2 910.2,657.9C906.8,657.6 906.4,657.4 903.2,656.2C900.1,654.9 900.2,655.0 898.6,653.2C897.0,651.5 897.1,651.6 897.3,649.8Z M701.2,649.3C701.2,646.4 701.4,646.7 702.6,644.4C703.7,642.2 703.5,642.0 705.7,640.9C707.8,639.8 708.7,639.9 710.6,640.4C712.5,641.0 712.1,641.0 712.8,643.1C713.5,645.2 713.2,645.6 713.2,648.4C713.2,651.3 711.8,651.3 712.8,653.8C713.7,656.3 714.1,655.8 716.8,657.8C719.5,659.8 720.2,659.3 723.0,661.3C725.8,663.3 725.5,663.4 727.4,665.3C729.3,667.2 730.0,666.8 730.1,668.4C730.2,670.1 730.9,669.7 727.9,671.6C724.9,673.5 722.9,672.5 719.0,675.6C715.1,678.6 715.8,680.1 713.2,683.1C710.6,686.1 711.6,686.2 709.2,686.7C706.9,687.1 706.6,686.3 704.3,684.9C702.1,683.5 701.3,683.9 700.8,681.3C700.3,678.7 701.4,678.2 702.6,675.1C703.7,672.0 704.7,673.6 705.2,669.8C705.7,666.0 705.0,664.7 704.3,660.9C703.6,657.1 703.4,658.6 702.6,655.6C701.7,652.5 701.2,652.3 701.2,649.3Z M490.0,620.8C490.4,619.6 490.3,619.0 492.2,619.8C494.1,620.5 494.2,622.4 497.0,623.6C499.8,624.8 501.1,623.8 502.6,624.2C504.1,624.7 503.9,624.8 502.6,625.2C501.3,625.6 499.9,625.0 497.8,625.6C495.7,626.2 496.5,627.9 494.6,627.6C492.7,627.3 491.8,626.2 490.6,624.4C489.4,622.6 489.5,622.0 490.0,620.8Z M507.0,624.4C509.1,623.3 512.5,623.4 516.2,623.6C519.9,623.8 518.9,623.5 521.0,625.2C523.1,626.9 522.3,627.1 524.2,630.0C526.1,632.9 526.9,636.6 528.2,636.0C529.5,635.4 529.0,630.1 529.0,627.6C529.0,625.1 527.9,629.6 528.2,626.8C528.5,624.0 528.9,620.3 530.2,617.2C531.5,614.1 531.3,615.4 533.0,615.2C534.7,615.0 534.5,614.8 536.6,616.4C538.7,618.0 539.0,618.6 541.0,621.2C543.0,623.8 543.1,623.0 544.2,626.0C545.3,629.0 545.0,628.6 545.0,632.4C545.0,636.2 546.5,636.3 544.2,640.4C541.9,644.5 540.0,643.8 536.2,647.6C532.4,651.4 532.6,652.6 529.8,654.8C527.0,657.0 527.5,656.4 525.8,656.0C524.1,655.6 524.5,656.1 523.4,653.2C522.3,650.3 523.5,649.0 521.8,645.2C520.1,641.4 519.8,642.6 517.0,638.8C514.2,635.0 513.7,633.8 511.4,630.8C509.1,627.8 509.4,629.3 508.2,627.6C507.0,625.9 504.9,625.5 507.0,624.4Z"/>
<path fill="#00c800" d="M900.3,648.6C900.8,646.6 900.6,646.1 902.7,643.9C904.7,641.7 904.5,641.4 907.9,640.4C911.3,639.4 912.1,639.7 915.5,640.1C918.9,640.5 918.6,640.2 920.8,641.9C922.9,643.5 922.7,643.8 923.7,646.2C924.6,648.7 924.9,648.7 924.2,650.9C923.6,653.1 923.5,652.9 921.3,654.4C919.2,655.9 918.9,655.9 916.1,656.5C913.3,657.0 913.9,657.2 910.8,656.6C907.7,656.1 907.1,655.8 904.4,654.4C901.8,653.0 902.0,653.1 900.9,651.5C899.8,649.9 899.9,650.6 900.3,648.6Z M703.3,649.3C703.3,646.6 703.3,647.1 704.3,645.3C705.3,643.6 705.5,643.4 707.0,642.7C708.5,642.0 708.9,641.8 710.1,642.7C711.3,643.5 711.1,643.8 711.4,645.8C711.8,647.8 711.7,647.9 711.4,650.2C711.2,652.6 710.1,652.5 710.6,654.7C711.0,656.8 711.3,656.8 713.2,658.2C715.1,659.6 715.1,658.6 717.7,660.0C720.3,661.4 720.4,661.3 723.0,663.6C725.6,665.8 727.0,666.3 727.4,668.4C727.9,670.6 727.4,670.0 724.8,671.6C722.2,673.1 721.0,671.9 717.7,674.2C714.3,676.6 714.9,678.3 712.3,680.4C709.7,682.6 710.0,682.0 707.9,682.2C705.8,682.5 705.8,682.3 704.3,681.3C702.9,680.4 702.6,680.8 702.6,678.7C702.6,676.5 703.3,675.7 704.3,673.3C705.4,671.0 706.1,672.9 706.6,669.8C707.0,666.7 706.7,665.6 706.1,661.8C705.5,658.0 705.1,658.9 704.3,655.6C703.6,652.2 703.3,652.1 703.3,649.3Z M512.2,628.4C512.8,626.5 513.9,626.0 516.2,626.0C518.5,626.0 518.9,626.1 521.0,628.4C523.1,630.7 522.3,632.0 524.2,634.8C526.1,637.6 526.1,637.7 528.2,638.8C530.3,639.9 531.1,642.9 532.2,638.8C533.3,634.7 531.6,628.5 532.2,623.6C532.8,618.7 532.9,620.8 534.6,620.4C536.3,620.0 536.5,620.1 538.6,622.0C540.7,623.9 541.4,624.2 542.6,627.6C543.8,631.0 543.2,631.2 543.0,634.8C542.8,638.4 544.0,638.0 541.8,641.2C539.6,644.4 538.0,643.6 534.6,646.8C531.2,650.0 531.3,651.4 529.0,653.2C526.7,655.0 527.1,654.2 525.8,653.6C524.5,653.0 524.8,653.0 524.2,650.8C523.6,648.6 524.7,648.0 523.4,645.2C522.1,642.4 522.0,643.6 519.4,640.4C516.8,637.2 515.7,636.4 513.8,633.2C511.9,630.0 511.6,630.3 512.2,628.4Z"/>
<path fill="#009600" d="M903.0,648.0C903.3,645.8 903.8,645.2 905.6,643.3C907.4,641.5 906.7,641.6 909.7,641.0C912.6,640.4 913.6,640.2 916.7,641.0C919.8,641.8 919.5,642.2 921.3,643.9C923.1,645.6 923.0,645.4 923.4,647.4C923.8,649.4 923.6,649.8 922.8,651.5C921.9,653.2 922.7,653.1 920.2,653.8C917.6,654.6 916.4,654.4 913.2,654.4C909.9,654.4 910.2,654.6 907.9,653.8C905.6,653.1 905.7,653.1 904.4,651.5C903.1,649.9 902.6,650.2 903.0,648.0Z M705.2,649.3C705.2,647.2 705.3,647.3 706.1,645.8C706.9,644.2 707.3,643.7 708.3,643.6C709.4,643.4 709.6,643.6 710.1,645.3C710.6,647.1 710.5,647.7 710.1,650.2C709.8,652.7 709.8,653.7 708.8,654.7C707.7,655.6 707.1,655.2 706.1,653.8C705.2,652.4 705.2,651.5 705.2,649.3Z M707.9,669.8C708.4,666.9 707.4,666.7 708.8,664.4C710.2,662.2 710.6,661.9 713.2,661.3C715.8,660.7 716.2,661.2 718.6,662.2C720.9,663.3 720.8,663.3 722.1,665.3C723.4,667.3 723.7,667.6 723.4,669.8C723.2,671.9 723.2,671.7 721.2,673.3C719.2,675.0 718.5,674.6 715.9,676.0C713.3,677.4 713.5,678.0 711.4,678.7C709.4,679.4 709.5,679.6 708.3,678.7C707.1,677.7 707.1,677.5 707.0,675.1C706.9,672.7 707.4,672.6 707.9,669.8Z M515.0,630.8C515.3,629.9 515.8,629.6 517.0,630.0C518.2,630.4 518.5,630.9 519.4,632.4C520.3,633.9 520.6,634.9 520.2,635.6C519.8,636.3 519.0,635.8 517.8,635.2C516.6,634.6 516.5,634.4 515.8,633.2C515.1,632.0 514.7,631.7 515.0,630.8Z M535.4,627.6C536.0,625.7 536.4,625.4 537.8,626.0C539.2,626.6 539.5,627.7 540.6,630.0C541.7,632.3 541.9,632.5 541.8,634.8C541.7,637.1 541.5,637.9 540.2,638.8C538.9,639.7 538.3,639.5 537.0,638.0C535.7,636.5 535.8,636.0 535.4,633.2C535.0,630.4 534.8,629.5 535.4,627.6Z M525.4,645.2C525.8,643.4 526.6,643.4 528.2,643.2C529.8,643.0 530.3,643.0 531.4,644.4C532.5,645.8 532.6,646.7 532.2,648.4C531.8,650.1 531.3,650.4 529.8,650.8C528.3,651.2 527.8,651.5 526.6,650.0C525.4,648.5 525.0,647.0 525.4,645.2Z"/>
<path fill="#ffff00" d="M904.1,647.7C904.5,645.8 904.7,645.0 906.5,643.3C908.2,641.6 908.1,641.8 910.8,641.3C913.6,640.8 914.0,640.9 916.7,641.6C919.3,642.3 919.0,642.4 920.8,643.9C922.5,645.5 922.6,645.7 923.1,647.4C923.6,649.1 923.4,648.9 922.5,650.3C921.6,651.8 922.4,652.3 919.9,653.0C917.4,653.7 916.2,653.2 913.2,653.0C910.1,652.7 910.7,652.8 908.5,652.1C906.3,651.4 906.2,651.5 905.0,650.3C903.8,649.2 903.7,649.6 904.1,647.7Z M706.6,648.4C706.8,646.8 708.1,644.0 708.8,644.4C709.5,644.9 709.5,648.6 709.2,650.2C709.0,651.9 708.6,651.1 707.9,650.7C707.2,650.2 706.3,650.1 706.6,648.4Z M708.3,670.7C708.6,668.3 707.9,667.7 709.2,665.3C710.5,663.0 710.7,662.5 713.2,661.8C715.7,661.1 716.3,661.7 718.6,662.7C720.8,663.6 720.5,663.6 721.7,665.3C722.9,667.1 723.2,667.3 723.0,669.3C722.8,671.3 722.7,671.2 720.8,672.9C718.9,674.5 718.4,674.4 715.9,675.6C713.4,676.7 713.2,677.0 711.4,677.3C709.7,677.7 710.1,677.7 709.2,676.9C708.3,676.1 708.3,675.9 708.1,674.2C707.8,672.6 708.0,673.0 708.3,670.7Z"/>
<path fill="#ffcc00" d="M908.2,646.5C908.2,645.1 908.6,644.6 910.2,643.6C911.9,642.6 912.2,642.8 914.3,642.8C916.5,642.7 916.6,642.6 918.4,643.3C920.2,644.1 920.3,644.3 921.0,645.7C921.8,647.1 921.7,647.3 921.3,648.6C920.9,649.8 921.5,649.8 919.6,650.3C917.7,650.9 916.8,650.9 914.3,650.6C911.8,650.3 911.9,650.3 910.2,649.2C908.6,648.1 908.2,648.0 908.2,646.5Z M710.1,669.8C710.1,667.9 710.1,667.4 711.4,665.8C712.7,664.1 713.0,663.9 715.0,663.6C717.0,663.2 717.5,663.3 719.0,664.4C720.5,665.6 720.8,666.1 720.8,668.0C720.8,669.9 720.5,670.1 719.0,671.6C717.5,673.0 717.0,673.0 715.0,673.3C713.0,673.7 712.7,673.8 711.4,672.9C710.1,671.9 710.1,671.7 710.1,669.8Z"/>
<path fill="#ff6600" d="M913.2,646.1C913.9,645.9 916.9,645.8 917.8,646.1C918.8,646.5 917.4,647.3 916.7,647.5C915.9,647.8 915.8,647.3 914.9,647.0C914.0,646.6 912.4,646.4 913.2,646.1Z M712.8,668.4C712.8,667.3 713.0,666.6 714.1,665.8C715.2,664.9 715.7,665.0 716.8,665.3C717.8,665.7 718.2,665.9 718.1,667.1C718.0,668.3 717.4,668.9 716.3,669.8C715.3,670.6 715.1,670.6 714.1,670.2C713.2,669.9 712.8,669.6 712.8,668.4Z"/>
</g>
<g id="grid" stroke="#a6a6a6" fill="none" clip-path="url(#fc)">
<line x1="301.0" y1="85.10" x2="301.0" y2="817.5" stroke-width="1.05" stroke-dasharray="2 7.529"/>
<line x1="358.8" y1="85.10" x2="358.8" y2="817.5" stroke-width="1.05" stroke-dasharray="2 7.529"/>
<line x1="416.7" y1="85.10" x2="416.7" y2="817.5" stroke-width="1.05" stroke-dasharray="2 7.529"/>
<line x1="474.5" y1="85.10" x2="474.5" y2="817.5" stroke-width="1.05" stroke-dasharray="2 7.529"/>
<line x1="532.4" y1="85.10" x2="532.4" y2="817.5" stroke-width="1.05" stroke-dasharray="2 7.529"/>
<line x1="590.2" y1="85.10" x2="590.2" y2="817.5" stroke-width="1.05" stroke-dasharray="2 7.529"/>
<line x1="648.1" y1="85.10" x2="648.1" y2="817.5" stroke-width="1.05" stroke-dasharray="2 7.529"/>
<line x1="705.9" y1="85.10" x2="705.9" y2="817.5" stroke-width="1.05" stroke-dasharray="2 7.529"/>
<line x1="763.8" y1="85.10" x2="763.8" y2="817.5" stroke-width="1.05" stroke-dasharray="2 7.529"/>
<line x1="821.6" y1="85.10" x2="821.6" y2="817.5" stroke-width="1.05" stroke-dasharray="2 7.529"/>
<line x1="879.5" y1="85.10" x2="879.5" y2="817.5" stroke-width="1.05" stroke-dasharray="2 7.529"/>
<line x1="272.10" y1="124.4" x2="935.5" y2="124.4" stroke-width="1.05" stroke-dasharray="2.2 7.610"/>
<line x1="272.10" y1="191.8" x2="935.5" y2="191.8" stroke-width="1.05" stroke-dasharray="2.2 7.610"/>
<line x1="272.10" y1="259.1" x2="935.5" y2="259.1" stroke-width="1.05" stroke-dasharray="2.2 7.610"/>
<line x1="272.10" y1="326.5" x2="935.5" y2="326.5" stroke-width="1.05" stroke-dasharray="2.2 7.610"/>
<line x1="272.10" y1="393.9" x2="935.5" y2="393.9" stroke-width="1.05" stroke-dasharray="2.2 7.610"/>
<line x1="272.10" y1="461.3" x2="935.5" y2="461.3" stroke-width="1.05" stroke-dasharray="2.2 7.610"/>
<line x1="272.10" y1="528.6" x2="935.5" y2="528.6" stroke-width="1.05" stroke-dasharray="2.2 7.610"/>
<line x1="272.10" y1="596.0" x2="935.5" y2="596.0" stroke-width="1.05" stroke-dasharray="2.2 7.610"/>
<line x1="272.10" y1="663.4" x2="935.5" y2="663.4" stroke-width="1.05" stroke-dasharray="2.2 7.610"/>
<line x1="272.10" y1="730.7" x2="935.5" y2="730.7" stroke-width="1.05" stroke-dasharray="2.2 7.610"/>
<line x1="272.10" y1="798.1" x2="935.5" y2="798.1" stroke-width="1.05" stroke-dasharray="2.2 7.610"/>
</g>
<g id="coast" stroke="#000" stroke-width="1.0" fill="none" stroke-linejoin="round" stroke-linecap="round" clip-path="url(#fc)">
<path d="M278.0,79.4 287.0,95.0 295.6,102.0 300.0,110.0 304.0,122.0 322.4,129.4 325.6,139.4 318.0,135.6 310.6,141.6 317.0,147.0 322.6,155.6 318.0,163.4 307.6,161.6 298.6,165.4 291.6,159.6 278.0,171.6 295.0,179.4 309.0,191.4 318.6,189.6 325.4,195.0 327.4,205.0 327.4,215.0 326.6,223.0 324.0,233.0 332.6,229.4 330.0,239.4 320.0,244.0 313.0,249.6 303.0,252.0 M322.4,129.4 324.4,122.0 329.0,113.0 332.0,108.0 335.0,101.6 344.6,99.6 358.0,111.0 368.0,116.0 388.0,120.0 473.0,159.6 480.0,156.6 486.0,152.0 495.0,144.0 500.0,142.0 M326.0,79.4 333.0,86.0 350.0,94.0 355.0,102.0 372.0,110.0 392.0,113.4 400.0,117.0 408.0,123.4 420.0,125.6 430.0,125.6 440.0,128.0 458.0,135.6 469.0,135.6 478.0,139.6 488.0,138.0 495.0,133.0 499.0,123.0 497.6,113.0 499.0,101.0 496.0,89.0 491.0,80.0 M450.0,101.4 456.0,110.0 447.4,113.4Z M491.0,80.0 496.0,88.0 499.0,98.0 497.6,110.0 499.0,122.0 496.0,131.4 488.0,138.0 480.0,139.6 M480.0,156.6 496.0,144.0 504.0,140.0 511.6,133.4 519.4,129.6 526.4,135.6 538.4,135.6 545.6,142.0 553.6,145.6 561.0,153.6 569.4,157.6 579.4,147.6 583.0,157.0 588.0,165.4 605.4,173.4 608.4,183.0 610.6,195.6 622.6,195.6 631.4,199.6 639.4,195.6 648.0,199.6 662.0,211.6 672.0,209.6 681.0,205.6 689.6,199.6 700.0,197.0 708.0,193.6 715.0,187.6 712.0,163.0 M673.6,79.4 675.0,91.0 677.6,108.0 684.0,125.0 690.0,138.0 700.0,154.0 703.0,163.4 713.0,161.6 717.0,164.0 720.0,169.0 M700.0,154.0 702.4,163.0 713.0,161.6 717.0,164.0 721.0,170.0 725.0,181.0 728.6,191.4 724.0,184.0 723.6,197.0 720.0,207.0 728.6,203.6 734.0,212.0 736.0,224.0 742.0,243.0 747.0,251.0 749.0,255.0 M700.0,197.0 708.0,193.4 715.0,187.6 712.0,163.0 M319.0,245.0 313.0,249.4 303.0,252.0 301.0,260.0 305.6,271.0 301.0,278.0 294.0,285.0 288.0,293.4 293.4,302.0 292.0,313.0 293.6,325.0 299.0,335.0 305.0,353.0 331.0,393.4 348.0,401.4 359.0,401.4 380.0,405.0 388.0,409.0 401.0,419.0 405.0,425.0 M399.4,309.4 407.0,314.6 411.4,351.0 420.0,357.0 430.6,373.0 439.0,377.0 449.0,379.4 456.0,385.4 468.4,385.4 469.0,399.0 472.0,411.4 481.6,409.4 475.0,416.0 469.0,425.0 M399.4,309.4 405.4,313.0 408.0,318.0 416.6,331.0 425.0,335.4 435.6,333.4 441.0,341.4 451.0,343.4 457.0,352.0 465.0,355.4 470.0,363.0 477.0,368.0 485.0,372.0 497.0,375.4 489.0,379.4 497.0,377.0 500.0,378.0 M423.0,343.4 431.6,345.4 437.0,353.0 427.0,355.4 420.6,349.0Z M480.0,370.0 488.0,373.4 497.6,375.4 488.4,379.4 498.0,377.0 506.0,383.4 507.4,395.0 515.0,401.0 524.4,416.6 524.4,425.0 M743.0,245.0 747.6,252.0 751.0,262.0 756.0,270.0 759.4,279.0 785.0,319.4 792.6,325.6 817.6,365.0 824.4,371.0 835.0,369.4 838.6,379.4 868.0,425.0 M396.0,415.0 403.0,421.0 429.0,461.0 437.4,465.0 444.4,445.4 452.4,441.0 454.4,429.0 464.4,431.4 475.6,415.0 M523.0,415.0 524.6,418.0 524.6,431.4 519.6,439.4 518.0,451.0 524.4,456.6 530.0,465.4 536.0,470.6 544.0,479.4 554.0,477.4 564.0,479.4 573.0,483.4 592.0,487.0 610.4,495.0 621.0,511.4 630.4,513.0 648.0,521.0 658.4,525.0 672.4,536.6 677.4,545.0 685.0,548.6 692.0,555.0 698.0,563.4 705.0,569.0 710.0,579.0 716.0,584.6 720.0,590.0 M861.0,415.0 869.4,427.0 877.6,431.4 881.6,441.0 886.6,449.0 895.0,453.0 915.6,457.0 921.0,465.0 938.0,479.0 940.0,480.6 M926.0,469.4 921.0,471.4 917.6,481.0 909.0,485.0 895.0,473.0 890.0,465.0 881.6,461.4 871.6,463.0 866.0,471.4 872.4,485.0 867.6,485.0 859.6,489.0 853.6,497.0 853.6,581.0 864.0,584.0 M700.0,564.6 704.4,568.0 710.0,579.4 716.0,585.0 721.0,592.0 722.4,595.0 M716.0,585.0 721.0,592.0 725.4,603.4 721.6,613.0 724.0,625.0 728.6,633.0 721.6,639.4 717.0,647.0 727.0,644.6 719.0,648.6 717.0,658.0 704.4,671.6 699.4,682.2 708.0,696.0 720.0,706.6 729.0,718.6 738.0,722.6 749.0,720.6 783.6,736.4 788.4,728.0 789.0,714.6 786.0,705.0 780.4,696.0 763.6,689.0 751.6,660.6 773.0,656.6 784.0,673.0 800.0,680.0 811.0,682.6 817.6,688.6 806.4,688.6 810.6,696.6 821.0,699.0 813.0,702.6 818.0,711.4 821.4,722.6 816.4,730.6 814.6,743.0 M864.0,585.0 872.4,588.8 881.0,597.0 889.0,600.6 895.0,609.0 892.0,618.0 884.0,625.0 867.6,632.6 864.0,642.0 857.6,648.6 861.6,660.0 871.0,675.0 874.6,697.0 874.6,712.0 870.0,719.4 861.6,726.6 852.4,728.6 848.0,735.0 840.0,742.0 831.6,746.0 M814.6,742.6 824.0,751.0 831.0,756.0 838.0,759.0 844.0,766.0 854.0,782.0 861.0,797.0 860.7,814.4 867.7,814.4 869.6,802.4 867.2,794.0 865.6,780.0 867.2,766.6 872.6,758.0 890.0,750.4 900.0,748.4 920.0,752.8 930.0,757.0 937.0,758.4 M831.6,746.6 840.0,755.6 846.0,760.6 854.0,764.4 856.0,776.0 862.6,797.0 862.7,814.4"/>
</g>
<defs><clipPath id="fc"><rect x="262.5" y="79.5" width="675.0" height="741.0"/></clipPath></defs>
<rect x="262.5" y="79.5" width="675.0" height="741.0" fill="none" stroke="#000" stroke-width="1.5"/>
<g stroke="#000" stroke-width="1.4">
<line x1="301.0" y1="820.5" x2="301.0" y2="826.0"/>
<line x1="358.8" y1="820.5" x2="358.8" y2="826.0"/>
<line x1="416.7" y1="820.5" x2="416.7" y2="826.0"/>
<line x1="474.5" y1="820.5" x2="474.5" y2="826.0"/>
<line x1="532.4" y1="820.5" x2="532.4" y2="826.0"/>
<line x1="590.2" y1="820.5" x2="590.2" y2="826.0"/>
<line x1="648.1" y1="820.5" x2="648.1" y2="826.0"/>
<line x1="705.9" y1="820.5" x2="705.9" y2="826.0"/>
<line x1="763.8" y1="820.5" x2="763.8" y2="826.0"/>
<line x1="821.6" y1="820.5" x2="821.6" y2="826.0"/>
<line x1="879.5" y1="820.5" x2="879.5" y2="826.0"/>
<line x1="257.0" y1="124.4" x2="262.5" y2="124.4"/>
<line x1="257.0" y1="191.8" x2="262.5" y2="191.8"/>
<line x1="257.0" y1="259.1" x2="262.5" y2="259.1"/>
<line x1="257.0" y1="326.5" x2="262.5" y2="326.5"/>
<line x1="257.0" y1="393.9" x2="262.5" y2="393.9"/>
<line x1="257.0" y1="461.3" x2="262.5" y2="461.3"/>
<line x1="257.0" y1="528.6" x2="262.5" y2="528.6"/>
<line x1="257.0" y1="596.0" x2="262.5" y2="596.0"/>
<line x1="257.0" y1="663.4" x2="262.5" y2="663.4"/>
<line x1="257.0" y1="730.7" x2="262.5" y2="730.7"/>
<line x1="257.0" y1="798.1" x2="262.5" y2="798.1"/>
</g>
<g class="tk thin2">
<text x="278.8" y="840.8" textLength="44.4" lengthAdjust="spacingAndGlyphs">85.8W</text>
<text x="336.6" y="840.8" textLength="44.4" lengthAdjust="spacingAndGlyphs">85.5W</text>
<text x="394.5" y="840.8" textLength="44.4" lengthAdjust="spacingAndGlyphs">85.2W</text>
<text x="452.3" y="840.8" textLength="44.4" lengthAdjust="spacingAndGlyphs">84.9W</text>
<text x="510.2" y="840.8" textLength="44.4" lengthAdjust="spacingAndGlyphs">84.6W</text>
<text x="568.0" y="840.8" textLength="44.4" lengthAdjust="spacingAndGlyphs">84.3W</text>
<text x="632.9" y="840.8" textLength="30.4" lengthAdjust="spacingAndGlyphs">84W</text>
<text x="683.7" y="840.8" textLength="44.4" lengthAdjust="spacingAndGlyphs">83.7W</text>
<text x="741.6" y="840.8" textLength="44.4" lengthAdjust="spacingAndGlyphs">83.4W</text>
<text x="799.4" y="840.8" textLength="44.4" lengthAdjust="spacingAndGlyphs">83.1W</text>
<text x="857.3" y="840.8" textLength="44.4" lengthAdjust="spacingAndGlyphs">82.8W</text>
<text x="209.8" y="131.0" textLength="43.4" lengthAdjust="spacingAndGlyphs">11.1N</text>
<text x="209.8" y="198.4" textLength="43.4" lengthAdjust="spacingAndGlyphs">10.8N</text>
<text x="209.8" y="265.7" textLength="43.4" lengthAdjust="spacingAndGlyphs">10.5N</text>
<text x="209.8" y="333.1" textLength="43.4" lengthAdjust="spacingAndGlyphs">10.2N</text>
<text x="218.2" y="400.5" textLength="35" lengthAdjust="spacingAndGlyphs">9.9N</text>
<text x="218.2" y="467.9" textLength="35" lengthAdjust="spacingAndGlyphs">9.6N</text>
<text x="218.2" y="535.2" textLength="35" lengthAdjust="spacingAndGlyphs">9.3N</text>
<text x="233.0" y="602.6" textLength="20.2" lengthAdjust="spacingAndGlyphs">9N</text>
<text x="218.2" y="670.0" textLength="35" lengthAdjust="spacingAndGlyphs">8.7N</text>
<text x="218.2" y="737.3" textLength="35" lengthAdjust="spacingAndGlyphs">8.4N</text>
<text x="218.2" y="804.7" textLength="35" lengthAdjust="spacingAndGlyphs">8.1N</text>
</g>
<g stroke="#000" stroke-width="1.0" stroke-linejoin="miter">
<rect x="1058" y="725.32" width="21.6" height="42.38" fill="#66ffff"/>
<rect x="1058" y="682.94" width="21.6" height="42.38" fill="#3399ff"/>
<rect x="1058" y="640.56" width="21.6" height="42.38" fill="#0000ff"/>
<rect x="1058" y="598.18" width="21.6" height="42.38" fill="#00ff00"/>
<rect x="1058" y="555.80" width="21.6" height="42.38" fill="#00c800"/>
<rect x="1058" y="513.42" width="21.6" height="42.38" fill="#009600"/>
<rect x="1058" y="471.04" width="21.6" height="42.38" fill="#ffff00"/>
<rect x="1058" y="428.66" width="21.6" height="42.38" fill="#ffcc00"/>
<rect x="1058" y="386.28" width="21.6" height="42.38" fill="#ff6600"/>
<rect x="1058" y="343.90" width="21.6" height="42.38" fill="#ff0000"/>
<rect x="1058" y="301.52" width="21.6" height="42.38" fill="#cc3300"/>
<rect x="1058" y="259.14" width="21.6" height="42.38" fill="#990000"/>
<rect x="1058" y="216.76" width="21.6" height="42.38" fill="#ff00ff"/>
<rect x="1058" y="174.38" width="21.6" height="42.38" fill="#9933cc"/>
<rect x="1058" y="132.00" width="21.6" height="42.38" fill="#f5f5f5"/>
<polygon points="1058,767.7 1079.6,767.7 1068.8,810.4" fill="#fff"/>
<polygon points="1058,132 1079.6,132 1068.8,89.3" fill="#aaaaaa"/>
<path d="M1058,132V767.7M1079.6,132V767.7" stroke-width="1.15" fill="none"/>
</g>
<g class="cb thin3" transform="scale(1.19,1)">
<text x="912.27" y="774.9">3.5</text>
<text x="912.27" y="732.5">7</text>
<text x="911.76" y="690.1">12.5</text>
<text x="911.76" y="647.8">15</text>
<text x="912.27" y="605.4">20</text>
<text x="912.27" y="563.0">25</text>
<text x="912.27" y="520.6">30</text>
<text x="912.27" y="478.2">40</text>
<text x="912.27" y="435.9">50</text>
<text x="912.27" y="393.5">60</text>
<text x="912.27" y="351.1">75</text>
<text x="912.27" y="308.7">90</text>
<text x="911.76" y="266.3">100</text>
<text x="911.76" y="224.0">120</text>
<text x="911.76" y="181.6">150</text>
<text x="912.27" y="139.2">200</text>
</g>
<text class="t1 thin" y="30.5"><tspan x="131.5" textLength="260.0" lengthAdjust="spacingAndGlyphs">IMN/SARAPIQUI_5</tspan> <tspan x="410.0" textLength="190.0" lengthAdjust="spacingAndGlyphs">Precipitacion</tspan> <tspan x="617.5" textLength="161.0" lengthAdjust="spacingAndGlyphs">Acumulada</tspan> <tspan x="796.5" textLength="34.5" lengthAdjust="spacingAndGlyphs">en</tspan> <tspan x="849.0" textLength="19.0" lengthAdjust="spacingAndGlyphs">6</tspan> <tspan x="886.0" textLength="82.0" lengthAdjust="spacingAndGlyphs">horas</tspan> <tspan x="986.5" textLength="82.0" lengthAdjust="spacingAndGlyphs">(mm)</tspan></text>
<text class="t1 thin" y="61.5" style="font-size:31.4px"><tspan x="461.5" y="61.5" textLength="75.5" lengthAdjust="spacingAndGlyphs">2025</tspan><tspan x="537" y="59.8" textLength="27.0" lengthAdjust="spacingAndGlyphs">-</tspan><tspan x="563.5" y="61.5" textLength="37.0" lengthAdjust="spacingAndGlyphs">09</tspan><tspan x="600.2" y="59.8" textLength="27.0" lengthAdjust="spacingAndGlyphs">-</tspan><tspan x="628.5" y="61.5" textLength="34.5" lengthAdjust="spacingAndGlyphs">16</tspan> <tspan x="683.5" y="61.5" textLength="53.0" lengthAdjust="spacingAndGlyphs">18Z</tspan></text>
<text class="ft thinf" y="876.4" transform="scale(1.15,1)"><tspan x="284.7" textLength="90.7" lengthAdjust="spacing">Instituto</tspan> <tspan x="386.7" textLength="153.0" lengthAdjust="spacing">Meteorologico</tspan> <tspan x="552.5" textLength="95.0" lengthAdjust="spacing">Nacional</tspan> <tspan x="658.8" textLength="62.5" lengthAdjust="spacing">Costa</tspan> <tspan x="733.7" textLength="47.7" lengthAdjust="spacing">Rica</tspan></text>
</svg></body></html>
